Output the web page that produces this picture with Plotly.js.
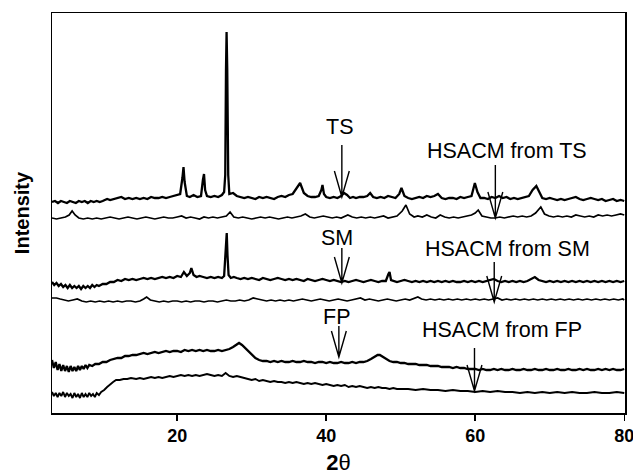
<!DOCTYPE html>
<html>
<head>
<meta charset="utf-8">
<script src="https://cdn.plot.ly/plotly-3.0.1.min.js"></script>
<style>html,body{margin:0;padding:0;background:#fff;}#chart{width:633px;height:475px;}</style>
</head>
<body>
<div id="chart"></div>
<script>
// ---- Data (relative intensity, a.u.) ----
var tsX = [3.2,3.6,4,4.4,4.8,5.2,5.6,6,6.4,6.8,7.2,7.6,8,8.4,8.8,9.2,9.6,10,10.6,11,11.5,12,12.5,13,13.5,14,14.5,15,15.5,16,16.5,17,17.5,18,18.5,19,19.5,20,20.4,20.7,20.85,21.0,21.3,21.7,22.2,22.7,23.2,23.45,23.6,23.75,24,24.5,25,25.5,26,26.3,26.45,26.55,26.63,26.72,26.85,27.0,27.5,28,28.5,29,29.5,30,30.5,31,31.5,32,32.5,33,33.5,34,34.5,35,35.5,36,36.5,37,37.5,38,38.5,39,39.35,39.5,39.7,40,40.5,41,41.5,42,42.4,42.8,43.2,43.6,44,44.5,45,45.5,45.9,46.3,46.8,47.3,47.8,48.3,48.8,49.3,49.8,50.1,50.5,51,51.5,52,52.5,53,53.5,54,54.5,55,55.5,56,56.5,57,57.5,58,58.5,59,59.5,59.95,60.3,60.7,61.2,61.7,62.2,62.7,63.2,63.7,64.2,64.7,65.2,65.7,66.2,66.7,67.2,67.7,68.2,68.6,69,69.5,70,70.5,71,71.5,72,72.5,73,73.5,74,74.5,75,75.5,76,76.5,77,77.5,78,78.5,79,79.5,80];
var tsY = [-2,-1,-3,-1,-2,-3,-1,-2,-3,-1,-2,-1,-3,-1,-2,-1,-2,-1,1,0,1,2,3,1,2,1,2,1,2,1,3,2,2,3,2,3,4,5,6,22,33,18,4,3,5,3,4,20,26,10,4,3,4,3,5,8,25,130,168,130,25,6,7,4,3,2,3,2,1,3,2,3,2,1,3,4,3,5,6,11,17,7,4,3,3,4,10,15,6,3,2,3,2,4,7,5,2,3,2,3,3,4,7,3,2,3,2,4,3,2,6,12,4,2,1,2,3,2,4,3,4,6,2,1,2,2,1,3,2,3,4,17,8,2,2,1,3,2,4,2,3,1,2,1,2,3,4,10,14,8,2,1,2,1,0,1,0,1,2,3,1,0,1,2,1,0,1,-1,0,1,-1,0,-1];

var hsTsX = [3.2,3.8,4.4,5,5.5,5.9,6.3,6.8,7.4,8,8.6,9.2,9.8,10.4,11,11.6,12.2,12.8,13.4,14,14.6,15.2,15.8,16.4,17,17.6,18.2,18.8,19.4,20,20.6,21.2,21.8,22.4,23,23.6,24.2,24.8,25.4,26,26.6,27.1,27.6,28.2,28.8,29.4,30,30.6,31.2,31.8,32.4,33,33.6,34.2,34.8,35.4,36,36.6,37.2,37.8,38.4,39,39.6,40.2,40.8,41.4,42,42.9,43.5,44.1,44.7,45.3,45.9,46.5,47.1,47.7,48.3,48.9,49.5,50.2,50.7,51.2,51.8,52.3,52.9,53.5,54.1,54.7,55.3,55.9,56.5,57.1,57.7,58.3,58.9,59.5,60,60.4,60.9,61.5,62.1,62.7,63.3,63.9,64.5,65.1,65.7,66.3,66.9,67.5,68.1,68.8,69.3,69.9,70.5,71.1,71.7,72.3,72.9,73.5,74.1,74.7,75.3,75.9,76.5,77.1,77.7,78.3,78.9,79.5,80];
var hsTsY = [0,-1,0,1,3,7,3,0,-1,0,-1,0,-1,0,1,0,-1,0,1,0,-1,0,1,0,-1,0,1,0,0,1,2,0,1,0,-1,1,0,1,0,1,2,6,1,0,1,0,-1,0,1,0,1,0,-1,0,1,0,1,2,4,1,0,1,2,1,0,1,0,3,1,0,1,0,1,0,1,2,0,1,2,7,13,4,1,2,1,3,1,0,3,1,0,1,0,1,2,3,5,8,2,1,0,0,1,0,1,2,1,2,1,2,5,11,4,2,1,2,1,2,1,3,2,1,2,1,3,2,3,2,3,4,3];

var smX = [3.2,3.5,3.8,4.1,4.4,4.7,5,5.3,5.6,5.9,6.2,6.5,6.8,7.1,7.4,7.7,8,8.3,8.6,8.9,9.2,9.5,10,10.5,11,11.5,12,12.5,13,13.5,14,14.5,15,15.5,16,16.5,17,17.5,18,18.5,19,19.5,20,20.5,20.9,21.3,21.7,21.9,22.2,22.6,23,23.5,24,24.5,25,25.5,26,26.3,26.45,26.55,26.65,26.75,26.9,27.2,27.6,28,28.5,29,29.5,30,30.5,31,31.5,32,32.5,33,33.5,34,34.5,35,35.5,36,36.5,37,37.5,38,38.5,39,39.5,40,40.5,41,41.5,42,42.5,43,43.5,44,44.5,45,45.5,46,46.5,47,47.5,48,48.35,48.5,48.7,49,49.5,50,50.5,51,51.5,52,52.5,53,53.5,54,54.5,55,55.5,56,56.5,57,57.5,58,58.5,59,59.5,60,60.5,61,61.5,62,62.5,63,63.5,64,64.5,65,65.5,66,66.5,67,67.5,68,68.5,69,69.5,70,70.5,71,71.5,72,72.5,73,73.5,74,74.5,75,75.5,76,76.5,77,77.5,78,78.5,79,79.5,80];
var smY = [-2,-5,-3,-6,-4,-7,-5,-8,-5,-8,-6,-8,-6,-9,-6,-8,-6,-8,-5,-7,-5,-6,-4,-4,-2,-2,0,-1,1,0,1,0,1,2,1,2,1,2,3,2,3,2,4,3,8,4,7,12,5,3,4,3,2,3,2,3,2,4,25,47,47,25,5,2,3,2,1,2,1,2,1,0,2,1,0,1,2,1,0,1,0,1,0,-1,1,0,-1,0,1,0,-1,0,-1,-2,-1,-2,-1,0,-1,-2,-1,0,-1,-2,-1,-1,6,8,0,-1,-2,-1,0,-1,-2,-1,-2,-1,-2,-1,-2,-1,-2,-1,-2,-1,-2,-2,-1,-2,-1,-2,-1,-2,-1,0,1,-1,-2,-1,-2,-1,-2,-1,-2,-1,1,3,0,-1,-2,-1,-2,-1,-2,-1,-2,-1,-2,-1,-2,-1,-2,-1,-2,-1,-2,-1,-2,-1,-2,-1,-2,-2];

var hsSmX = [3.2,3.8,4.3,4.8,5.4,6,6.6,7.2,7.8,8.4,9,9.6,10.2,10.8,11.4,12,12.6,13.2,13.8,14.4,15,15.5,15.9,16.4,17,17.6,18.2,18.8,19.4,20,20.6,21.2,21.8,22.4,23,23.6,24.2,24.8,25.4,26,26.6,27.2,27.8,28.4,29,29.6,30.2,30.8,31.4,32,32.6,33.2,33.8,34.4,35,35.6,36.2,36.8,37.4,38,38.6,39.2,39.8,40.4,41,41.6,42.2,42.8,43.4,44,44.6,45.2,45.8,46.4,47,47.6,48.2,48.8,49.4,50,50.6,51.2,51.8,52.3,52.8,53.4,54,54.6,55.2,55.8,56.4,57,57.6,58.2,58.8,59.4,60,60.6,61.2,61.8,62.4,63,63.6,64.2,64.8,65.4,66,66.6,67.2,67.8,68.4,69,69.6,70.2,70.8,71.4,72,72.6,73.2,73.8,74.4,75,75.6,76.2,76.8,77.4,78,78.6,79.2,79.8,80];
var hsSmY = [2,2,1,0,-1,0,1,-1,-2,-1,-2,-1,-2,-1,-2,-1,-2,-1,-1,-2,-1,1,3,0,-1,-2,-1,-2,-1,-1,-2,-1,-2,-1,-1,-2,-1,-1,-2,-1,0,-1,-1,0,-1,0,2,1,0,-1,0,-1,0,-1,0,-1,0,1,0,-1,0,1,0,-1,0,1,0,-1,0,1,2,0,1,0,-1,0,1,0,-1,0,1,0,2,3,1,0,1,0,1,0,1,0,1,0,1,0,1,0,1,0,1,2,0,1,0,1,0,1,0,1,0,1,0,1,0,1,0,1,0,1,0,1,0,1,0,1,0,1,0,1,0,1,0,1,0];

var fpX = [3.2,3.45,3.7,3.95,4.2,4.45,4.7,4.95,5.2,5.45,5.7,5.95,6.2,6.45,6.7,6.95,7.2,7.45,7.7,7.95,8.2,8.6,9,9.5,10,10.5,11,11.5,12,12.5,13,13.5,14,14.5,15,15.5,16,16.5,17,17.5,18,18.5,19,19.5,20,20.5,21,21.5,22,22.5,23,23.5,24,24.5,25,25.5,26,26.5,27,27.5,27.9,28.3,28.7,29.1,29.5,30,30.5,31,31.5,32,32.5,33,33.5,34,34.5,35,35.5,36,36.5,37,37.5,38,38.5,39,39.5,40,40.5,41,41.5,42,42.5,43,43.5,44,44.5,45,45.5,46,46.5,46.9,47.2,47.6,48,48.5,49,49.5,50,50.5,51,51.5,52,52.5,53,53.5,54,54.5,55,55.5,56,56.5,57,57.5,58,58.5,59,59.5,60,60.5,61,61.5,62,62.5,63,63.5,64,64.5,65,65.5,66,66.5,67,67.5,68,68.5,69,69.5,70,70.5,71,71.5,72,72.5,73,73.5,74,74.5,75,75.5,76,76.5,77,77.5,78,78.5,79,79.5,80];
var fpY = [10,2,8,0,6,-1,5,-1,4,-2,4,-1,3,-1,4,0,4,1,5,2,5,4,6,6,8,8,10,11,12,12,14,14,15,15,16,17,16,17,18,17,18,19,18,19,19,18,20,19,20,19,20,19,20,19,19,20,19,20,21,23,25,27,25,22,19,15,12,10,9,9,8,9,8,9,8,8,9,8,8,9,8,8,7,8,8,7,8,7,7,8,7,7,8,7,8,8,9,11,13,15,15,13,11,9,8,8,7,7,6,6,6,5,5,5,4,4,4,3,3,3,2,3,2,2,1,1,1,0,1,0,0,1,0,1,0,0,1,0,0,1,0,0,1,0,0,1,0,0,1,0,0,1,0,0,1,0,1,0,0,1,0,1,0,1,0,0,1,0,1,0,1,1];

var hsFpX = [3.2,3.45,3.7,3.95,4.2,4.45,4.7,4.95,5.2,5.45,5.7,5.95,6.2,6.45,6.7,6.95,7.2,7.45,7.7,7.95,8.2,8.45,8.7,8.95,9.2,9.5,9.8,10.2,10.6,11,11.4,11.8,12.3,12.8,13.3,13.8,14.5,15,15.5,16,16.5,17,17.5,18,18.5,19,19.5,20,20.5,21,21.5,22,22.5,23,23.5,24,24.5,25,25.5,26,26.5,27,27.5,28,28.5,29,29.5,30,30.5,31,31.5,32,32.5,33,33.5,34,34.5,35,35.5,36,36.5,37,37.5,38,38.5,39,39.5,40,40.5,41,41.5,42,42.5,43,43.5,44,44.5,45,45.5,46,46.5,47,47.5,48,48.5,49,49.5,50,51,52,53,54,55,56,57,58,59,60,61,62,63,64,65,66,67,68,69,70,71,72,73,74,75,76,77,78,79,80];
var hsFpY = [1,-3,0,-4,0,-3,1,-4,0,-3,-1,-5,0,-4,-1,-5,0,-4,-1,-4,0,-3,-1,-4,0,-2,1,3,6,9,11,13,13,14,14,15,14,15,14,15,16,15,16,15,16,17,16,17,18,17,18,17,18,17,18,19,18,17,18,17,20,17,16,17,16,15,14,13,14,12,13,12,11,12,11,11,10,11,10,11,10,9,10,9,10,9,8,9,8,7,8,7,8,6,7,6,7,6,5,6,5,6,5,5,4,5,4,4,4,3,4,3,3,2,3,2,2,1,2,1,2,1,1,0,1,0,1,0,1,0,1,0,0,1,0,0,1,0];

var seriesNames = ["TS", "HSACM from TS", "SM", "HSACM from SM", "FP", "HSACM from FP"];
var seriesX = [tsX, hsTsX, smX, hsSmX, fpX, hsFpX];
var seriesY = [tsY, hsTsY, smY, hsSmY, fpY, hsFpY];
var offsets = [213, 195, 133, 113, 43, 20];
var widths = [2.3, 1.7, 2.3, 1.7, 2.3, 1.9];

// arrow markers (2θ position, tip and tail heights) and label positions
var arrowX    = [42.1, 62.7, 42.1, 62.55, 41.7, 59.9];
var arrowTip  = [216, 195, 130, 111, 56, 22];
var arrowTail = [268, 248, 165, 151, 87, 65];
var labelX = [41.8, 64.3, 41.5, 64.3, 41.4, 63.6];
var labelY = [286, 262, 175, 164, 96, 83];

var traces = [];
for (var i = 0; i < seriesX.length; i++) {
  var off = offsets[i];
  traces.push({
    x: seriesX[i],
    y: seriesY[i].map(function (v) { return v + off; }),
    type: 'scatter', mode: 'lines', name: seriesNames[i],
    line: {color: '#000', width: widths[i]},
    showlegend: false, hoverinfo: 'skip'
  });
}

var shapes = [];
var annotations = [];
for (var j = 0; j < arrowX.length; j++) {
  var ax = arrowX[j], tip = arrowTip[j], tail = arrowTail[j];
  shapes.push({
    type: 'path', xref: 'x', yref: 'y',
    path: 'M' + ax + ',' + tail + ' L' + ax + ',' + tip +
          ' M' + (ax - 1.0) + ',' + (tip + 26) + ' L' + ax + ',' + tip + ' L' + (ax + 1.0) + ',' + (tip + 26),
    line: {color: '#000', width: 1.4}
  });
  annotations.push({
    x: labelX[j], y: labelY[j], xref: 'x', yref: 'y',
    text: seriesNames[j], showarrow: false,
    font: {family: 'Liberation Sans, Arial, sans-serif', size: 21.5, color: '#000'},
    xanchor: 'center', yanchor: 'middle'
  });
}

var layout = {
  width: 633, height: 475,
  margin: {l: 52, r: 8, t: 13, b: 62},
  paper_bgcolor: '#fff', plot_bgcolor: '#fff',
  font: {family: 'Liberation Sans, Arial, sans-serif', color: '#000'},
  xaxis: {
    range: [3.2, 80.1], showgrid: false, zeroline: false,
    showline: true, mirror: true, linecolor: '#000', linewidth: 1.5,
    ticks: 'outside', ticklen: 6, tickwidth: 1.5, tickcolor: '#000',
    tickvals: [20, 40, 60, 80], ticktext: ['20', '40', '60', '80'],
    ticklabeloverflow: 'allow',
    tickfont: {family: 'Liberation Sans, Arial, sans-serif', size: 18, weight: 'bold', color: '#000'},
    title: {text: '<b>2</b>θ', standoff: 9,
            font: {family: 'Liberation Sans, Arial, sans-serif', size: 22, color: '#000'}}
  },
  yaxis: {
    range: [0, 400], showgrid: false, zeroline: false,
    showline: true, mirror: true, linecolor: '#000', linewidth: 1.5,
    ticks: '', showticklabels: false,
    title: {text: '<b>Intensity</b>', standoff: 15,
            font: {family: 'Liberation Sans, Arial, sans-serif', size: 20, color: '#000'}}
  },
  shapes: shapes,
  annotations: annotations
};

Plotly.newPlot('chart', traces, layout, {displayModeBar: false, staticPlot: true});
</script>
</body>
</html>
